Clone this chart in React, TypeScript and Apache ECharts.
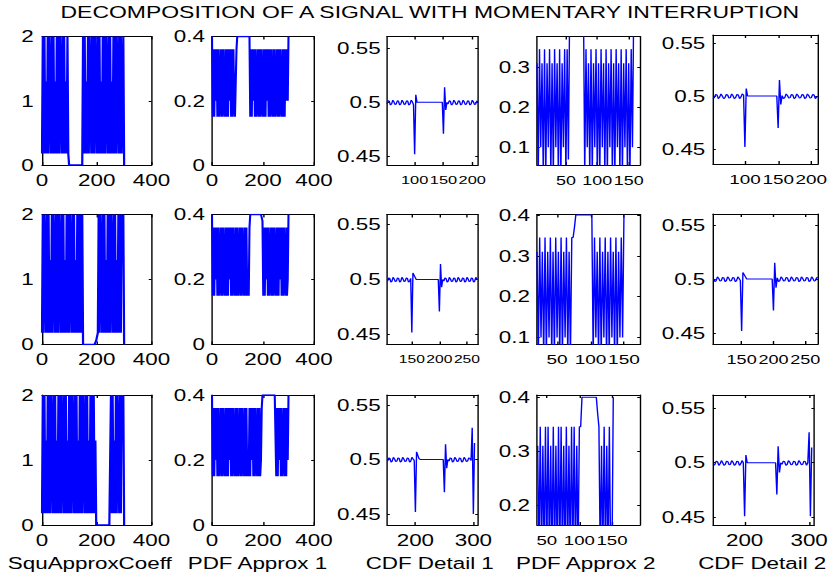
import React, { useEffect, useRef } from 'react';
import * as echarts from 'echarts';

// ---------- texts ----------
const chartTitle = 'DECOMPOSITION OF A SIGNAL WITH MOMENTARY INTERRUPTION';
const columnNames = ['SquApproxCoeff', 'PDF Approx 1', 'CDF Detail 1', 'PDF Approx 2', 'CDF Detail 2'];

// ---------- tick values ----------
const ticksX0to400 = [0, 200, 400];
const ticksY0to2 = [0, 1, 2];
const ticksY0to04 = [0, 0.2, 0.4];
const ticksYcdf = [0.45, 0.5, 0.55];
const ticksXcdfRow1 = [100, 150, 200];
const ticksXcdfRow2 = [150, 200, 250];
const ticksXcdfRow3 = [200, 300];
const ticksXpdf2 = [50, 100, 150];
const ticksYpdf2Row1 = [0.1, 0.2, 0.3];
const ticksYpdf2Row2 = [0.1, 0.2, 0.3, 0.4];
const ticksYpdf2Row3 = [0.2, 0.3, 0.4];

// ---------- series values (x = start + step * index) ----------
// SquApproxCoeff, x = 0..300 step 3
const squRow1 = [
  0.18, 2, 0.18, 2, 0.18, 1.3, 0.18, 2, 0.18, 2,
  1.3, 0.18, 2, 0.18, 2, 0.18, 1.3, 0.18, 2, 0.18,
  2, 0.18, 2, 1.3, 0.18, 2, 0.18, 2, 0.18, 1.3,
  0.18, 2, 0.18,
  0, 0, 0, 0, 0, 0, 0, 0, 0, 0, 0, 0, 0, 0, 0, 0, 0,
  2, 0.18, 2, 0.18, 1.3, 0.18, 2, 0.18, 2, 1.3,
  0.18, 2, 0.18, 2, 0.18, 2, 1.3, 0.18, 2, 0.18,
  2, 0.18, 1.3, 0.18, 2, 0.18, 2, 0.18, 2, 1.3,
  0.18, 2, 0.18, 2, 0.18, 1.3, 0.18, 2, 0.18, 2,
  0.18, 2, 1.3, 0.18, 2, 0.18, 2, 0.18, 1.3, 2,
  0,
];
const squRow2 = [
  0.18, 2, 0.18, 2, 1.3, 0.18, 2, 0.18, 2, 0.18,
  1.3, 0.18, 2, 0.18, 2, 1.3, 0.18, 2, 0.18, 2,
  0.18, 2, 1.3, 0.18, 2, 0.18, 2, 0.18, 1.3, 0.18,
  2, 0.18, 2, 0.18, 2, 1.3, 0.18, 2, 0.18, 2,
  0.18, 1.3, 0.18, 2, 0.18, 2, 0.18, 2, 0.18, 2,
  0, 0, 0, 0, 0, 0, 0, 0, 0, 0, 0, 0, 0, 0, 0, 0,
  0.06, 0.12, 0.18,
  2, 0.18, 2, 1.3, 0.18, 2, 0.18, 2, 0.18, 1.3,
  0.18, 2, 0.18, 2, 0.18, 2, 1.3, 0.18, 2, 0.18,
  2, 0.18, 1.3, 0.18, 2, 0.18, 2, 0.18, 2, 1.3,
  2,
  0,
];
const squRow3 = [
  0.18, 2, 0.18, 2, 0.18, 1.3, 0.18, 2, 0.18, 2,
  0.18, 2, 1.3, 0.18, 2, 0.18, 2, 0.18, 1.3, 0.18,
  2, 0.18, 2, 0.18, 2, 1.3, 0.18, 2, 0.18, 2,
  0.18, 1.3, 0.18, 2, 0.18, 2, 0.18, 2, 1.3, 0.18,
  2, 0.18, 2, 0.18, 1.3, 0.18, 2, 0.18, 2, 0.18,
  2, 1.3, 0.18, 2, 0.18, 2, 0.18, 1.3, 0.18, 2,
  0.18, 2, 0.18, 2, 0.18, 1.3,
  0, 0, 0, 0, 0, 0, 0, 0, 0, 0, 0, 0, 0, 0, 0, 0, 0, 0,
  2, 0.18, 2, 0.18, 1.3, 0.18, 2, 0.18, 2, 1.3, 0.18, 2, 0.18, 2, 1.3, 2,
  0,
];

// PDF Approx 1, x = 0..300 step 3
const pdfA1Row1 = [
  0.4,
  0.15, 0.36, 0.15, 0.36, 0.2, 0.36, 0.15, 0.36, 0.15, 0.2,
  0.36, 0.15, 0.36, 0.15, 0.36, 0.2, 0.15, 0.36, 0.15, 0.36,
  0.15, 0.36, 0.2, 0.36, 0.15, 0.36, 0.15, 0.36, 0.2, 0.15,
  0.15, 0.36,
  0.4, 0.4, 0.4, 0.4, 0.4, 0.4, 0.4, 0.4, 0.4, 0.4, 0.4, 0.4, 0.4, 0.4, 0.4, 0.4, 0.4,
  0.15, 0.36, 0.15, 0.36, 0.2, 0.36, 0.15, 0.36, 0.15, 0.2,
  0.36, 0.15, 0.36, 0.15, 0.36, 0.2, 0.15, 0.36, 0.15, 0.36,
  0.15, 0.36, 0.2, 0.36, 0.15, 0.36, 0.15, 0.36, 0.2, 0.15,
  0.36, 0.15, 0.36, 0.15, 0.2, 0.36, 0.15, 0.36, 0.15, 0.36,
  0.2, 0.15, 0.36, 0.15, 0.36, 0.15, 0.36, 0.2, 0.36, 0.2,
  0.4,
];
const pdfA1Row2 = [
  0.4,
  0.15, 0.36, 0.15, 0.36, 0.2, 0.36, 0.15, 0.36, 0.15, 0.2,
  0.36, 0.15, 0.36, 0.15, 0.36, 0.2, 0.15, 0.36, 0.15, 0.36,
  0.15, 0.36, 0.2, 0.36, 0.15, 0.36, 0.15, 0.36, 0.2, 0.15,
  0.36, 0.15, 0.36, 0.15, 0.2, 0.36, 0.15, 0.36, 0.15, 0.36,
  0.2, 0.15, 0.36, 0.15, 0.36, 0.15, 0.2, 0.15, 0.36,
  0.4, 0.4, 0.4, 0.4, 0.4, 0.4, 0.4, 0.4, 0.4, 0.4, 0.4, 0.4, 0.4, 0.4, 0.4, 0.4,
  0.38,
  0.15, 0.36, 0.15, 0.36, 0.2, 0.36, 0.15, 0.36, 0.15, 0.2,
  0.36, 0.15, 0.36, 0.15, 0.36, 0.2, 0.15, 0.36, 0.15, 0.36,
  0.15, 0.36, 0.2, 0.36, 0.15, 0.36, 0.15, 0.36, 0.2, 0.15,
  0.36, 0.15, 0.2,
  0.4,
];
const pdfA1Row3 = [
  0.4,
  0.15, 0.36, 0.15, 0.36, 0.2, 0.36, 0.15, 0.36, 0.15, 0.2,
  0.36, 0.15, 0.36, 0.15, 0.36, 0.2, 0.15, 0.36, 0.15, 0.36,
  0.15, 0.36, 0.2, 0.36, 0.15, 0.36, 0.15, 0.36, 0.2, 0.15,
  0.36, 0.15, 0.36, 0.15, 0.2, 0.36, 0.15, 0.36, 0.15, 0.36,
  0.2, 0.15, 0.36, 0.15, 0.36, 0.15, 0.2, 0.15, 0.36, 0.15,
  0.36, 0.2, 0.36, 0.15, 0.36, 0.15, 0.36, 0.2, 0.15, 0.36,
  0.15, 0.36, 0.15, 0.2, 0.36,
  0.4, 0.4, 0.4, 0.4, 0.4, 0.4, 0.4, 0.4, 0.4, 0.4, 0.4, 0.4, 0.4, 0.4, 0.4, 0.4, 0.4, 0.4,
  0.15, 0.36, 0.15, 0.36, 0.2, 0.36, 0.15, 0.36, 0.15, 0.2, 0.36, 0.15, 0.36, 0.15, 0.36, 0.2,
  0.4,
];

// CDF Detail 1, step 2
const cdfD1Row1 = [
  0.4985, 0.5015, 0.501, 0.4975, 0.4985, 0.502, 0.5005, 0.498, 0.4985, 0.5015, 0.501, 0.4975,
  0.4985, 0.502, 0.5005, 0.498, 0.4985, 0.5015, 0.501, 0.4975, 0.4985, 0.502, 0.5005, 0.498,
  0.452, 0.507,
  0.5, 0.5, 0.5, 0.5, 0.5, 0.5, 0.5, 0.5, 0.5, 0.5, 0.5, 0.5, 0.5, 0.5, 0.5, 0.5, 0.5, 0.5, 0.5, 0.5, 0.5, 0.5, 0.5,
  0.471, 0.514, 0.493,
  0.5, 0.4985, 0.5015, 0.501, 0.4975, 0.4985, 0.502, 0.5005, 0.498, 0.4985, 0.5015, 0.501, 0.4975, 0.4985,
  0.502, 0.5005, 0.498, 0.4985, 0.5015, 0.501, 0.4975, 0.4985, 0.502, 0.5005, 0.498, 0.4985, 0.5015, 0.5,
];
const cdfD1Row2 = [
  0.4985, 0.5015, 0.501, 0.4975, 0.4985, 0.502, 0.5005, 0.498, 0.4985, 0.5015, 0.501,
  0.4975, 0.4985, 0.502, 0.5005, 0.498, 0.4985, 0.5015, 0.501, 0.4975, 0.4985, 0.501,
  0.452, 0.506, 0.504, 0.502,
  0.5, 0.5, 0.5, 0.5, 0.5, 0.5, 0.5, 0.5, 0.5, 0.5, 0.5, 0.5, 0.5, 0.5, 0.5, 0.5, 0.5, 0.5, 0.5, 0.5, 0.5,
  0.471, 0.514, 0.493,
  0.5, 0.4985, 0.5015, 0.501, 0.4975, 0.4985, 0.502, 0.5005, 0.498, 0.4985, 0.5015, 0.501, 0.4975, 0.4985,
  0.502, 0.5005, 0.498, 0.4985, 0.5015, 0.501, 0.4975, 0.4985, 0.502, 0.5005, 0.498, 0.4985, 0.5015, 0.501,
  0.4975, 0.4985, 0.502, 0.5005, 0.5,
];
const cdfD1Row3 = [
  0.4985, 0.5015, 0.501, 0.4975, 0.4985, 0.502, 0.5005, 0.498, 0.4985, 0.5015, 0.501, 0.4975,
  0.4985, 0.502, 0.5005, 0.498, 0.4985, 0.5015, 0.501, 0.4975, 0.4985, 0.502, 0.5005, 0.499,
  0.452, 0.507, 0.504, 0.501,
  0.5, 0.5, 0.5, 0.5, 0.5, 0.5, 0.5, 0.5, 0.5, 0.5, 0.5, 0.5, 0.5, 0.5, 0.5, 0.5, 0.5, 0.5, 0.5, 0.5, 0.5,
  0.47, 0.514, 0.492,
  0.5, 0.4985, 0.5015, 0.501, 0.4975, 0.4985, 0.502, 0.5005, 0.498, 0.4985, 0.5015, 0.501, 0.4975, 0.4985,
  0.502, 0.5005, 0.498, 0.4985, 0.5015, 0.501, 0.499,
  0.529, 0.45, 0.515,
];

// PDF Approx 2, step 2
const pdfA2Row1 = [
  0.31, 0.03, 0.345, 0.1, 0.31, 0.03, 0.345, 0.03, 0.31, 0.1, 0.345, 0.03, 0.31, 0.03, 0.345, 0.1,
  0.31, 0.03, 0.345, 0.03, 0.31, 0.1, 0.345, 0.03, 0.345, 0.07,
  0.45, 0.45, 0.45, 0.45, 0.45, 0.45, 0.45, 0.45, 0.45, 0.45, 0.45, 0.45,
  0.03, 0.345, 0.1, 0.31, 0.03, 0.345, 0.03, 0.31, 0.1, 0.345, 0.03, 0.31, 0.03, 0.345, 0.1, 0.31,
  0.03, 0.345, 0.03, 0.31, 0.1, 0.345, 0.03, 0.31, 0.03, 0.345, 0.1, 0.31, 0.03, 0.345, 0.03, 0.31,
  0.1, 0.345, 0.03, 0.31, 0.03, 0.345, 0.1,
  0.45, 0.45, 0.45, 0.45, 0.45, 0.45,
];
const pdfA2Row2 = [
  0.31, 0.05, 0.345, 0.1, 0.31, 0.05, 0.345, 0.05, 0.31, 0.1, 0.345, 0.05, 0.31, 0.05, 0.345, 0.1,
  0.31, 0.05, 0.345, 0.05, 0.31, 0.1, 0.345, 0.05, 0.31, 0.05, 0.345, 0.345,
  0.37,
  0.4, 0.4, 0.4, 0.4, 0.4, 0.4, 0.4, 0.4, 0.4, 0.4, 0.4, 0.4, 0.4,
  0.05, 0.345, 0.1, 0.31, 0.05, 0.345, 0.05, 0.31, 0.1, 0.345, 0.05, 0.31, 0.05, 0.345, 0.1, 0.31,
  0.05, 0.345, 0.05, 0.31, 0.1, 0.345, 0.1,
  0.4,
];
const pdfA2Row3 = [
  0.31, 0.1, 0.345, 0.1, 0.31, 0.1, 0.345, 0.1, 0.345, 0.1, 0.31, 0.1, 0.345, 0.1, 0.31, 0.1, 0.345,
  0.1, 0.345, 0.1, 0.31, 0.1, 0.345, 0.1, 0.31, 0.1, 0.345, 0.1, 0.345, 0.1, 0.31, 0.1, 0.345, 0.345,
  0.4, 0.4, 0.4, 0.4, 0.4, 0.4, 0.4, 0.4, 0.4, 0.4, 0.4, 0.4,
  0.37, 0.345,
  0.1, 0.31, 0.1, 0.345, 0.1, 0.31, 0.1, 0.345, 0.1, 0.1,
  0.4,
];

// CDF Detail 2, step 2
const cdfD2Row1 = [
  0.4975, 0.4985, 0.5015, 0.501, 0.4975, 0.499, 0.502, 0.5, 0.4975, 0.4985, 0.5015, 0.501,
  0.498, 0.4985, 0.502, 0.5005, 0.4975, 0.4985, 0.5015, 0.501, 0.4975, 0.499, 0.502, 0.501,
  0.452, 0.507,
  0.5, 0.5, 0.5, 0.5, 0.5, 0.5, 0.5, 0.5, 0.5, 0.5, 0.5, 0.5, 0.5, 0.5, 0.5, 0.5, 0.5, 0.5, 0.5, 0.5, 0.5, 0.5, 0.5,
  0.47, 0.515, 0.492,
  0.5005, 0.4975, 0.4985, 0.502, 0.5005, 0.498, 0.4985, 0.5015, 0.501, 0.4975, 0.4985, 0.502, 0.5005, 0.498,
  0.4985, 0.5015, 0.501, 0.4975, 0.4985, 0.502, 0.5005, 0.498, 0.4985, 0.5015, 0.501, 0.4975, 0.499, 0.5,
];
const cdfD2Row2 = [
  0.5, 0.4975, 0.4985, 0.502, 0.5005, 0.498, 0.4985, 0.5015, 0.501, 0.4975, 0.4985,
  0.502, 0.5005, 0.498, 0.4985, 0.5015, 0.501, 0.4975, 0.4985, 0.502, 0.5005, 0.4985,
  0.452, 0.506, 0.504, 0.502,
  0.5, 0.5, 0.5, 0.5, 0.5, 0.5, 0.5, 0.5, 0.5, 0.5, 0.5, 0.5, 0.5, 0.5, 0.5, 0.5, 0.5, 0.5, 0.5, 0.5, 0.5,
  0.471, 0.515, 0.492,
  0.501, 0.4975, 0.4985, 0.502, 0.5005, 0.498, 0.4985, 0.5015, 0.501, 0.4975, 0.4985, 0.502, 0.5005, 0.498,
  0.4985, 0.5015, 0.501, 0.4975, 0.4985, 0.502, 0.5005, 0.498, 0.4985, 0.5015, 0.501, 0.4975, 0.4985, 0.502,
  0.5005, 0.498, 0.4985, 0.5015, 0.501,
];
const cdfD2Row3 = [
  0.4975, 0.4985, 0.5015, 0.501, 0.4975, 0.499, 0.502, 0.5, 0.4975, 0.4985, 0.5015, 0.501,
  0.498, 0.4985, 0.502, 0.5005, 0.4975, 0.4985, 0.5015, 0.501, 0.4975, 0.499, 0.502, 0.5,
  0.451, 0.507, 0.5, 0.5,
  0.5, 0.5, 0.5, 0.5, 0.5, 0.5, 0.5, 0.5, 0.5, 0.5, 0.5, 0.5, 0.5, 0.5, 0.5, 0.5, 0.5, 0.5, 0.5, 0.5, 0.5,
  0.471, 0.515, 0.491,
  0.5, 0.4985, 0.5015, 0.501, 0.4975, 0.4985, 0.502, 0.5005, 0.498, 0.4985, 0.5015, 0.501, 0.4975, 0.4985,
  0.502, 0.5005, 0.498, 0.4985, 0.5015, 0.501, 0.4975, 0.5,
  0.528, 0.451, 0.514,
];

// ---------- panel definitions ----------
type Panel = {
  row: number; col: number; values: number[]; x0: number; step: number;
  xMin: number; xMax: number; xTicks: number[];
  yMin: number; yMax: number; yTicks: number[];
};

const panels: Panel[] = [
  { row: 0, col: 0, values: squRow1, x0: 0, step: 3, xMin: 0, xMax: 400, xTicks: ticksX0to400, yMin: 0, yMax: 2, yTicks: ticksY0to2 },
  { row: 0, col: 1, values: pdfA1Row1, x0: 0, step: 3, xMin: 0, xMax: 400, xTicks: ticksX0to400, yMin: 0, yMax: 0.4, yTicks: ticksY0to04 },
  { row: 0, col: 2, values: cdfD1Row1, x0: 52, step: 2, xMin: 52, xMax: 210, xTicks: ticksXcdfRow1, yMin: 0.442, yMax: 0.561, yTicks: ticksYcdf },
  { row: 0, col: 3, values: pdfA2Row1, x0: 4, step: 2, xMin: 4, xMax: 168, xTicks: ticksXpdf2, yMin: 0.056, yMax: 0.3765, yTicks: ticksYpdf2Row1 },
  { row: 0, col: 4, values: cdfD2Row1, x0: 52, step: 2, xMin: 52, xMax: 210, xTicks: ticksXcdfRow1, yMin: 0.436, yMax: 0.5575, yTicks: ticksYcdf },

  { row: 1, col: 0, values: squRow2, x0: 0, step: 3, xMin: 0, xMax: 400, xTicks: ticksX0to400, yMin: 0, yMax: 2, yTicks: ticksY0to2 },
  { row: 1, col: 1, values: pdfA1Row2, x0: 0, step: 3, xMin: 0, xMax: 400, xTicks: ticksX0to400, yMin: 0, yMax: 0.4, yTicks: ticksY0to04 },
  { row: 1, col: 2, values: cdfD1Row2, x0: 106, step: 2, xMin: 105, xMax: 270, xTicks: ticksXcdfRow2, yMin: 0.441, yMax: 0.559, yTicks: ticksYcdf },
  { row: 1, col: 3, values: pdfA2Row2, x0: 20, step: 2, xMin: 20, xMax: 174, xTicks: ticksXpdf2, yMin: 0.083, yMax: 0.4015, yTicks: ticksYpdf2Row2 },
  { row: 1, col: 4, values: cdfD2Row2, x0: 106, step: 2, xMin: 105, xMax: 270, xTicks: ticksXcdfRow2, yMin: 0.44, yMax: 0.56, yTicks: ticksYcdf },

  { row: 2, col: 0, values: squRow3, x0: 0, step: 3, xMin: 0, xMax: 400, xTicks: ticksX0to400, yMin: 0, yMax: 2, yTicks: ticksY0to2 },
  { row: 2, col: 1, values: pdfA1Row3, x0: 0, step: 3, xMin: 0, xMax: 400, xTicks: ticksX0to400, yMin: 0, yMax: 0.4, yTicks: ticksY0to04 },
  { row: 2, col: 2, values: cdfD1Row3, x0: 152, step: 2, xMin: 151, xMax: 308, xTicks: ticksXcdfRow3, yMin: 0.44, yMax: 0.559, yTicks: ticksYcdf },
  { row: 2, col: 3, values: pdfA2Row3, x0: 36, step: 2, xMin: 35, xMax: 193, xTicks: ticksXpdf2, yMin: 0.163, yMax: 0.404, yTicks: ticksYpdf2Row3 },
  { row: 2, col: 4, values: cdfD2Row3, x0: 152, step: 2, xMin: 151, xMax: 308, xTicks: ticksXcdfRow3, yMin: 0.443, yMax: 0.562, yTicks: ticksYcdf },
];

// ---------- layout (page pixels) ----------
const SCALE_X = 1.4; // the figure is horizontally stretched
const BASE_W = 832 / SCALE_X;
const BASE_H = 580;
const colLeftPx = [42, 212, 387, 537, 713];
const colRightPx = [151.5, 314, 478, 640, 818];
const rowTopPx = [36.5, 214.5, 395];
const rowBottomPx = [165, 344.5, 525];
const col5RowTopPx = [35, 214, 395];
const col5RowBottomPx = [164, 344, 525];
const namePadRight = [10, 8, 4, 4, 2];
const yLabelMargin = [6, 5, 4.5, 5, 5.5];
const lineWidthByCol = [1.6, 1.5, 1, 1, 1];
const BASE_FONT = 16;
const DIGIT_EM = 0.556; // Liberation Sans digit advance

const FONT = '"Liberation Sans", Arial, Helvetica, sans-serif';
const BLACK = '#000000';
const BLUE = '#0000ff';

// largest font (<= 16px) at which neighbouring x tick labels of a panel do not collide
function xLabelFont(p: Panel): number {
  const pxPerUnit = (colRightPx[p.col] - colLeftPx[p.col]) / (p.xMax - p.xMin);
  let fs = BASE_FONT;
  for (let i = 0; i + 1 < p.xTicks.length; i++) {
    const gap = (p.xTicks[i + 1] - p.xTicks[i]) * pxPerUnit;
    const chars = (String(p.xTicks[i]).length + String(p.xTicks[i + 1]).length) / 2;
    const need = chars * DIGIT_EM * SCALE_X;
    fs = Math.min(fs, (gap * 0.95) / need);
  }
  return Math.round(fs * 10) / 10;
}

function buildOption(): any {
  const grid: any[] = [];
  const xAxis: any[] = [];
  const yAxis: any[] = [];
  const series: any[] = [];
  const axisLine = { show: true, onZero: false, lineStyle: { color: BLACK, width: 1 } };
  const labelStyle = { color: BLACK, fontSize: BASE_FONT, fontFamily: FONT };

  panels.forEach((p, k) => {
    const top = p.col === 4 ? col5RowTopPx[p.row] : rowTopPx[p.row];
    const bottom = p.col === 4 ? col5RowBottomPx[p.row] : rowBottomPx[p.row];
    grid.push({
      left: colLeftPx[p.col] / SCALE_X,
      width: (colRightPx[p.col] - colLeftPx[p.col]) / SCALE_X,
      top,
      height: bottom - top,
      show: false,
    });
    const xBase = { type: 'value', gridIndex: k, min: p.xMin, max: p.xMax, splitLine: { show: false } };
    const yBase = { type: 'value', gridIndex: k, min: p.yMin, max: p.yMax, splitLine: { show: false }, axisLine };
    const fsX = xLabelFont(p);
    const xLabelStyle = { color: BLACK, fontSize: fsX, fontFamily: FONT };
    const xMargin = 7 + (BASE_FONT - fsX) / 2;

    // main bottom x axis: line, ticks, first label, column name
    const mainX = xAxis.length;
    xAxis.push({
      ...xBase,
      axisLine,
      position: 'bottom',
      axisTick: { show: true, inside: true, length: 3, customValues: p.xTicks, lineStyle: { color: BLACK } },
      axisLabel: {
        show: true, customValues: [p.xTicks[0]], margin: xMargin, hideOverlap: false,
        showMinLabel: true, showMaxLabel: true, ...xLabelStyle,
      },
      ...(p.row === 2
        ? {
            name: columnNames[p.col],
            nameLocation: 'middle',
            nameGap: 30,
            nameTextStyle: { ...labelStyle, padding: [0, namePadRight[p.col], 0, 0] },
          }
        : {}),
    });
    // mirrored top axis (box + inward ticks)
    xAxis.push({
      ...xBase,
      axisLine,
      position: 'top',
      axisTick: { show: true, inside: true, length: 3, customValues: p.xTicks, lineStyle: { color: BLACK } },
      axisLabel: { show: false },
    });
    // one label-only axis per remaining tick so that every tick label stays visible
    p.xTicks.slice(1).forEach((t) => {
      xAxis.push({
        ...xBase,
        position: 'bottom',
        axisLine: { show: false, onZero: false },
        axisTick: { show: false },
        axisLabel: {
          show: true, customValues: [t], margin: xMargin, hideOverlap: false,
          showMinLabel: true, showMaxLabel: true, ...xLabelStyle,
        },
      });
    });

    const mainY = yAxis.length;
    yAxis.push({
      ...yBase,
      position: 'left',
      axisTick: { show: true, inside: true, length: 2, customValues: p.yTicks, lineStyle: { color: BLACK } },
      axisLabel: {
        show: true, customValues: p.yTicks, margin: yLabelMargin[p.col], hideOverlap: false,
        showMinLabel: true, showMaxLabel: true, ...labelStyle,
      },
    });
    yAxis.push({
      ...yBase,
      position: 'right',
      axisTick: { show: true, inside: true, length: 2, customValues: p.yTicks, lineStyle: { color: BLACK } },
      axisLabel: { show: false },
    });
    series.push({
      type: 'line',
      xAxisIndex: mainX,
      yAxisIndex: mainY,
      data: p.values.map((v, i) => [p.x0 + p.step * i, v]),
      showSymbol: false,
      symbol: 'none',
      clip: true,
      silent: true,
      z: 3,
      lineStyle: { color: BLUE, width: lineWidthByCol[p.col] },
    });
  });

  return {
    animation: false,
    backgroundColor: '#ffffff',
    textStyle: { fontFamily: FONT },
    grid,
    xAxis,
    yAxis,
    series,
    graphic: [
      {
        type: 'text',
        x: 307,
        y: 4,
        silent: true,
        style: {
          text: chartTitle,
          fill: BLACK,
          fontSize: 16.4,
          fontFamily: FONT,
          align: 'center',
          verticalAlign: 'top',
          textAlign: 'center',
          textVerticalAlign: 'top',
        },
      },
    ],
  };
}

export default function App() {
  const ref = useRef<HTMLDivElement>(null);
  useEffect(() => {
    if (!ref.current) return;
    const chart = echarts.init(ref.current, null, { renderer: 'svg', width: BASE_W, height: BASE_H });
    chart.setOption(buildOption());
    return () => {
      chart.dispose();
    };
  }, []);
  return (
    <div
      ref={ref}
      style={{
        position: 'absolute',
        left: 0,
        top: 0,
        width: BASE_W,
        height: BASE_H,
        transform: `scaleX(${SCALE_X})`,
        transformOrigin: '0 0',
        background: '#ffffff',
      }}
    />
  );
}
